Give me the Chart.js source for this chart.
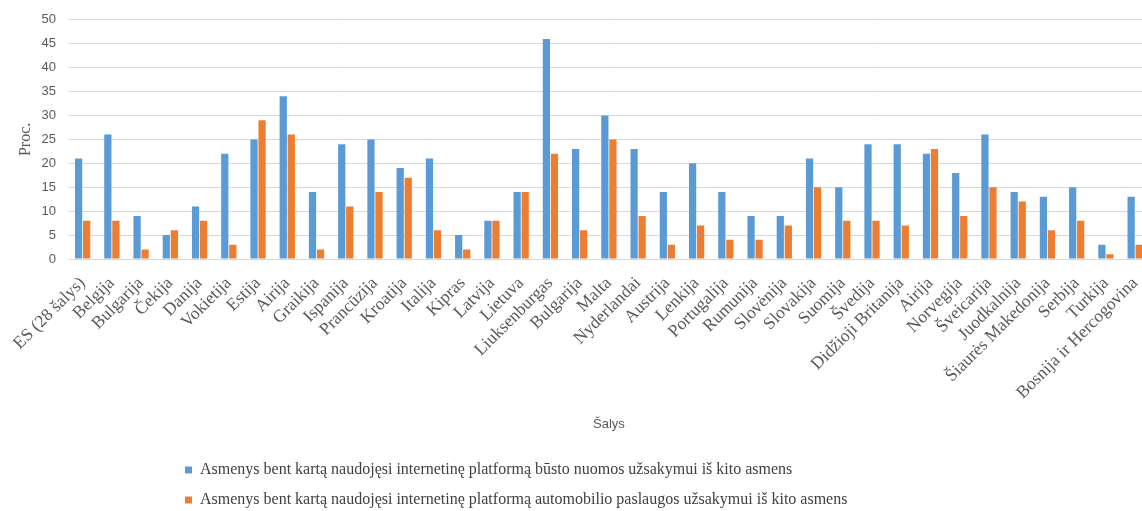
<!DOCTYPE html>
<html>
<head>
<meta charset="utf-8">
<script src="https://cdn.jsdelivr.net/npm/chart.js@4.4.0/dist/chart.umd.min.js"></script>
<style>
  html, body { margin: 0; padding: 0; background: #fff; overflow: hidden; }
  #wrap { position: relative; width: 1156px; height: 511px; }
</style>
</head>
<body>
<div id="wrap"><canvas id="c"></canvas></div>
<script>
const categories = [
  "ES (28 šalys)", "Belgija", "Bulgarija", "Čekija", "Danija", "Vokietija", "Estija", "Airija",
  "Graikija", "Ispanija", "Prancūzija", "Kroatija", "Italija", "Kipras", "Latvija", "Lietuva",
  "Liuksenburgas", "Bulgarija", "Malta", "Nyderlandai", "Austrija", "Lenkija", "Portugalija",
  "Rumunija", "Slovėnija", "Slovakija", "Suomija", "Švedija", "Didžioji Britanija", "Airija",
  "Norvegija", "Šveicarija", "Juodkalnija", "Šiaurės Makedonija", "Serbija", "Turkija",
  "Bosnija ir Hercogovina"
];
const seriesNames = [
  "Asmenys bent kartą naudojęsi internetinę platformą būsto nuomos užsakymui iš kito asmens",
  "Asmenys bent kartą naudojęsi internetinę platformą automobilio paslaugos užsakymui iš kito asmens"
];
const housing = [21, 26, 9, 5, 11, 22, 25, 34, 14, 24, 25, 19, 21, 5, 8, 14, 46, 23, 30, 23, 14, 20, 14, 9, 9, 21, 15, 24, 24, 22, 18, 26, 14, 13, 15, 3, 13];
const transport = [8, 8, 2, 6, 8, 3, 29, 26, 2, 11, 14, 17, 6, 2, 8, 14, 22, 6, 25, 9, 3, 7, 4, 4, 7, 15, 8, 8, 7, 23, 9, 15, 12, 6, 8, 1, 3];
const yTicks = [0, 5, 10, 15, 20, 25, 30, 35, 40, 45, 50];
const yTitle = "Proc.";
const xTitle = "Šalys";

const legendShift = {
  id: 'legendShift',
  afterLayout(chart) {
    chart.legend.left = 171;
    chart.legend.top += 7;
  }
};

new Chart(document.getElementById('c'), {
  type: 'bar',
  data: {
    labels: categories,
    datasets: [
      { label: seriesNames[0], data: housing, backgroundColor: '#5B9BD5', borderWidth: 0 },
      { label: seriesNames[1], data: transport, backgroundColor: '#ED7D31', borderWidth: 0 }
    ]
  },
  options: {
    responsive: true,
    maintainAspectRatio: false,
    animation: false,
    layout: { padding: { top: 12, left: 8, right: 0, bottom: 0 } },
    datasets: { bar: { categoryPercentage: 0.55, barPercentage: 0.9 } },
    plugins: {
      tooltip: { enabled: false },
      legend: {
        position: 'bottom',
        align: 'start',
        labels: {
          boxWidth: 7,
          boxHeight: 7,
          padding: 14,
          color: '#404040',
          font: { family: "'Liberation Serif', 'Times New Roman', serif", size: 16 }
        }
      }
    },
    scales: {
      x: {
        grid: { display: false },
        border: { display: true, color: '#d9d9d9' },
        ticks: {
          minRotation: 45,
          maxRotation: 45,
          autoSkip: false,
          color: '#595959',
          padding: 6,
          font: { family: "'Liberation Serif', 'Times New Roman', serif", size: 17.5 }
        },
        title: {
          display: true,
          text: xTitle,
          color: '#595959',
          padding: { top: 4, bottom: 9 },
          font: { family: "'Liberation Sans', Arial, sans-serif", size: 13 }
        },
        afterFit(scale) { scale.height = 182; }
      },
      y: {
        min: 0,
        max: 50,
        afterBuildTicks(scale) { scale.ticks = yTicks.map(v => ({ value: v })); },
        grid: { color: '#d9d9d9', drawTicks: false },
        border: { display: false },
        ticks: {
          color: '#595959',
          padding: 12,
          font: { family: "'Liberation Sans', Arial, sans-serif", size: 13 }
        },
        title: {
          display: true,
          text: yTitle,
          color: '#595959',
          padding: { top: 8, bottom: 0 },
          font: { family: "'Liberation Serif', 'Times New Roman', serif", size: 16 }
        },
        afterFit(scale) { scale.width = 60; }
      }
    }
  },
  plugins: [legendShift]
});
</script>
</body>
</html>
